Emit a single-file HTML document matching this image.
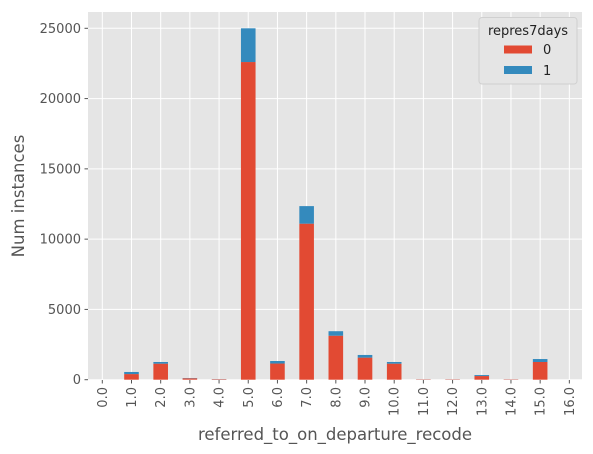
<!DOCTYPE html>
<html><head><meta charset="utf-8"><style>
body{margin:0;background:#fff;}
svg{display:block;font-family:"DejaVu Sans","Liberation Sans",sans-serif;}
</style></head><body>
<svg id="chart" width="593" height="454">
<rect x="88" y="12" width="494" height="368" fill="#e5e5e5"/>
<g id="grid"></g><g id="bars"></g><g id="ticks"></g>
<text transform="translate(24,196) rotate(-90)" text-anchor="middle" font-size="16.5" fill="#555">Num instances</text>
<text x="335" y="440" text-anchor="middle" font-size="16.5" fill="#555">referred_to_on_departure_recode</text>
<g>
<rect x="479" y="17.5" width="98" height="66.5" rx="3" fill="#e5e5e5" stroke="#d0d0d0" stroke-width="1"/>
<text x="528" y="35" text-anchor="middle" font-size="13" fill="#222">repres7days</text>
<rect x="504" y="45.5" width="28" height="8" fill="#e24a33"/>
<text x="543" y="54" font-size="13" fill="#222">0</text>
<rect x="504" y="66" width="28" height="8" fill="#348abd"/>
<text x="543" y="75" font-size="13" fill="#222">1</text>
</g>
</svg>
<script>
const categories=["0.0","1.0","2.0","3.0","4.0","5.0","6.0","7.0","8.0","9.0","10.0","11.0","12.0","13.0","14.0","15.0","16.0"];
const series0=[0,400,1140,100,40,22600,1150,11100,3130,1570,1140,25,25,260,25,1260,0];
const series1=[0,150,120,20,10,2400,180,1250,320,190,120,5,5,70,5,210,0];
const yTicks=[0,5000,10000,15000,20000,25000];
const NS="http://www.w3.org/2000/svg";
const x0=102.3,step=29.19,y0=379.7,k=0.014056,bw=14.6;
const xs=i=>x0+i*step, ys=v=>y0-v*k;
const grid=document.getElementById('grid'),bars=document.getElementById('bars'),ticks=document.getElementById('ticks');
function mk(tag,attrs,parent){const e=document.createElementNS(NS,tag);for(const a in attrs)e.setAttribute(a,attrs[a]);parent.appendChild(e);return e;}
yTicks.forEach(t=>{
 const l=mk('line',{x1:88,x2:582,y1:ys(t),y2:ys(t),stroke:'#fff','stroke-width':1},grid);
 
 
 const tk=mk('line',{x1:84.5,x2:88,y1:ys(t),y2:ys(t),stroke:'#555'},ticks);
 
 
 const tx=mk('text',{x:81,y:ys(t)+4.5,'text-anchor':'end','font-size':13,fill:'#555'},ticks);
 tx.textContent=t;
 
 
});
categories.forEach((c,i)=>{
 const x=xs(i);
 const g=mk('line',{x1:x,x2:x,y1:12,y2:380,stroke:'#fff','stroke-width':1},grid);
 
 
 const tk=mk('line',{x1:x,x2:x,y1:380,y2:383.5,stroke:'#555'},ticks);
 
 
 const tx=mk('text',{transform:`translate(${x+4.5},387) rotate(-90)`,'text-anchor':'end','font-size':13,fill:'#555'},ticks);
 tx.textContent=c;
 
 
 const v0=series0[i],v1=series1[i];
 if(v0>0){const r=mk('rect',{x:x-bw/2,y:ys(v0),width:bw,height:y0-ys(v0),fill:'#e24a33'},bars);
 
 }
 if(v1>0){const r=mk('rect',{x:x-bw/2,y:ys(v0+v1),width:bw,height:ys(v0)-ys(v0+v1),fill:'#348abd'},bars);
 
 }
});
</script>
</body></html>
